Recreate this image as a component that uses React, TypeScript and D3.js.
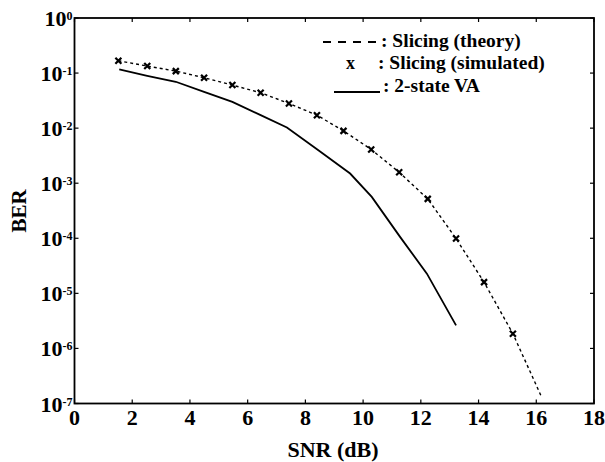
import React from 'react';
import * as d3 from 'd3';

// SNR (dB) where the simulated slicing points were taken
const simSnr = [1.52, 2.52, 3.51, 4.49, 5.47, 6.45, 7.43, 8.4, 9.32, 10.28, 11.25, 12.24, 13.22, 14.19, 15.19];
const simBer = [0.1675, 0.134, 0.1086, 0.0822, 0.0605, 0.0439, 0.0281, 0.0172, 0.00893, 0.0041, 0.00158, 0.000519, 9.9e-5, 1.6e-5, 1.85e-6];

// theory curve follows the simulated points and runs on to ~16 dB
const theorySnr = [...simSnr, 16.16];
const theoryBer = [...simBer, 1.4e-7];

// 2-state Viterbi
const vaSnr = [1.55, 2.52, 3.51, 4.49, 5.47, 6.45, 7.36, 8.45, 9.55, 10.3, 11.28, 12.21, 13.22];
const vaBer = [0.1167, 0.0893, 0.0695, 0.0457, 0.03, 0.0172, 0.0103, 0.00398, 0.0015, 0.000564, 1.06e-4, 2.28e-5, 2.62e-6];

const xTicks = [0, 2, 4, 6, 8, 10, 12, 14, 16, 18];
const yExponents = [0, -1, -2, -3, -4, -5, -6, -7];

const W = 605;
const H = 462;
const left = 74.5, right = 594, top = 18, bottom = 403.5;
const font = '"Liberation Serif", "Times New Roman", serif';

export default function App() {
  const x = d3.scaleLinear().domain([0, 18]).range([left, right]);
  const y = d3.scaleLog().domain([1e-7, 1]).range([bottom, top]);

  const line = d3.line<[number, number]>()
    .x(d => x(d[0]))
    .y(d => y(d[1]));

  const theory = line(theorySnr.map((s, i) => [s, theoryBer[i]]));
  const va = line(vaSnr.map((s, i) => [s, vaBer[i]]));

  const cross = (cx: number, cy: number, r = 3) =>
    `M${cx - r},${cy - r}L${cx + r},${cy + r}M${cx - r},${cy + r}L${cx + r},${cy - r}`;

  return (
    <svg width={W} height={H} style={{ position: 'absolute', left: 0, top: 0, background: '#fff' }}
      fontFamily={font} fontWeight="bold">
      {/* frame */}
      <rect x={left} y={top} width={right - left} height={bottom - top} fill="none" stroke="#000" strokeWidth={1.8} />

      {/* x ticks, bottom and top */}
      {xTicks.map(t => (
        <g key={'x' + t}>
          <line x1={x(t)} x2={x(t)} y1={bottom} y2={bottom - 4} stroke="#000" strokeWidth={1.2} />
          <line x1={x(t)} x2={x(t)} y1={top} y2={top + 4} stroke="#000" strokeWidth={1.2} />
          <text x={x(t)} y={425} textAnchor="middle" fontSize={22}>{t}</text>
        </g>
      ))}

      {/* y ticks with 10^n labels */}
      {yExponents.map(e => {
        const yy = y(Math.pow(10, e));
        return (
          <g key={'y' + e}>
            <line x1={left} x2={left + 4} y1={yy} y2={yy} stroke="#000" strokeWidth={1.2} />
            <line x1={right} x2={right - 4} y1={yy} y2={yy} stroke="#000" strokeWidth={1.2} />
            <text x={left - 2} y={yy + 8} textAnchor="end" fontSize={22}>
              10<tspan fontSize={12} dy={-6}>{e === 0 ? '0' : e}</tspan>
            </text>
          </g>
        );
      })}

      {/* curves */}
      <path d={theory ?? ''} fill="none" stroke="#000" strokeWidth={1.4} strokeDasharray="3,3" />
      <path d={va ?? ''} fill="none" stroke="#000" strokeWidth={1.8} />
      {simSnr.map((s, i) => (
        <path key={'m' + i} d={cross(x(s), y(simBer[i]))} stroke="#000" strokeWidth={2.2} fill="none" />
      ))}

      {/* legend */}
      <g fontSize={19.5}>
        <line x1={323} x2={378} y1={42} y2={42} stroke="#000" strokeWidth={1.8} strokeDasharray="8,7" />
        <text x={381} y={47}>: Slicing (theory)</text>
        <text x={346} y={69} fontSize={18}>x</text>
        <text x={378} y={69}>: Slicing (simulated)</text>
        <line x1={334} x2={380} y1={92} y2={92} stroke="#000" strokeWidth={1.8} />
        <text x={383} y={92}>: 2-state VA</text>
      </g>

      {/* axis titles */}
      <text x={333} y={457} textAnchor="middle" fontSize={22}>SNR (dB)</text>
      <text transform={`translate(26,211) rotate(-90)`} textAnchor="middle" fontSize={21}>BER</text>
    </svg>
  );
}
